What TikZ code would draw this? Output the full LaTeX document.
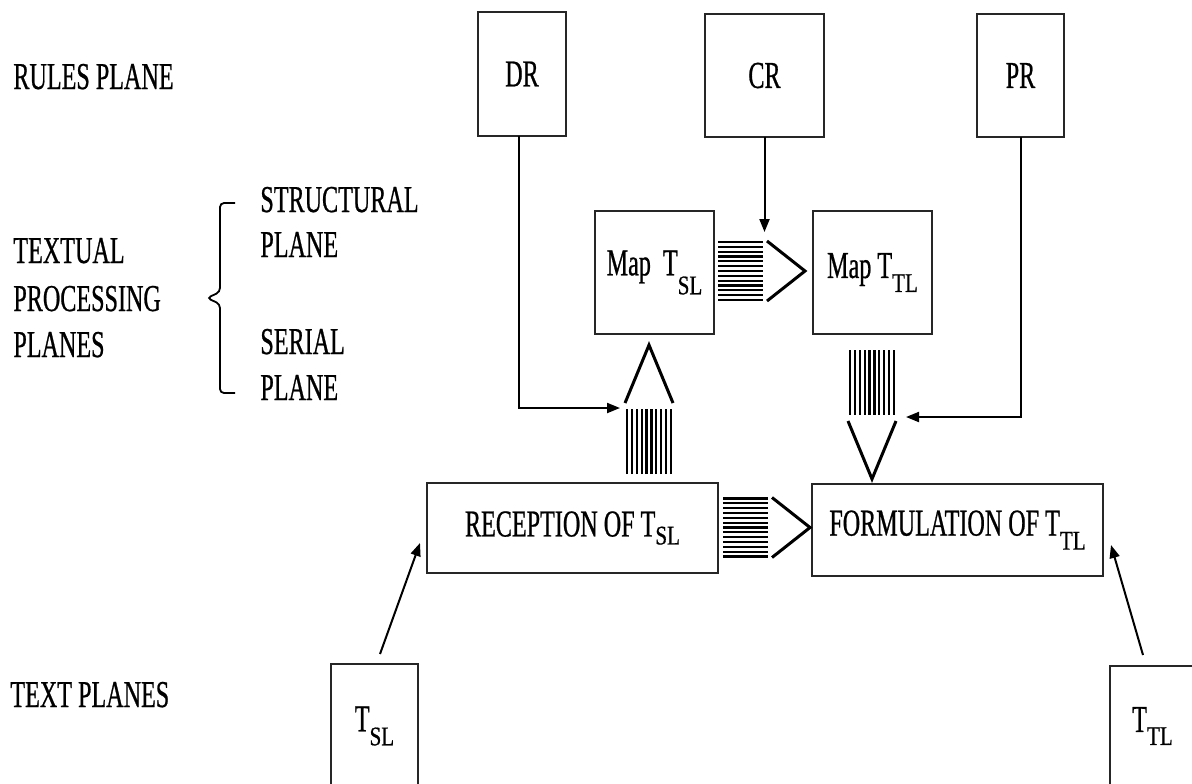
\documentclass[tikz,border=0pt]{standalone}
\usepackage{fontspec}
\setmainfont{Liberation Serif}[FakeStretch=0.635,FakeBold=0.6]
\newfontfamily\subfont{Liberation Serif}[FakeStretch=0.78,FakeBold=0.6]
\usetikzlibrary{calc,arrows.meta}

\newcommand{\lowsub}[2][6.5pt]{\raisebox{-#1}{\subfont\fontsize{13.5}{14}\selectfont #2}}

\tikzset{
    box/.style={draw=black!85, line width=0.9pt, inner sep=0pt, outer sep=0pt, font=\fontsize{19}{23}\selectfont},
    lbl/.style={inner sep=0pt, anchor=base west, font=\fontsize{19}{23}\selectfont},
    conn/.style={line width=1pt, -{Triangle[length=6.5pt,width=5pt]}},
    hatch/.style={line width=1.1pt},
    chev/.style={line width=1.5pt, miter limit=10},
    pics/hatchright/.style={code={
        \foreach \k in {0,...,12} \draw[hatch] (0,-29+4.833*\k) -- (45,-29+4.833*\k);
        \draw[chev] (49,-30) -- (87,0) -- (49,30);
    }},
    pics/hatchup/.style={code={
        \foreach \k in {0,...,9} \draw[hatch] (-22+4.889*\k,0) -- (-22+4.889*\k,-65);
        \draw[chev] (-24,-71) -- (0,-129) -- (24,-71);
    }}
}

\begin{document}
\begin{tikzpicture}[x=0.5pt,y=-0.5pt]
\clip (0,0) rectangle (1192,783);
\fill[white] (0,0) rectangle (1192,783);
% planes on the left
\node[lbl] (rules) at (13,89) {RULES PLANE};
\node[lbl] (textual) at (13,263) {TEXTUAL};
\node[lbl] (processing) at (13,311) {PROCESSING};
\node[lbl] (planes) at (13,357) {PLANES};
\node[lbl] (structural) at (260,212) {STRUCTURAL};
\node[lbl] (structplane) at (260,257) {PLANE};
\node[lbl] (serial) at (260,354) {SERIAL};
\node[lbl] (serialplane) at (260,400) {PLANE};
\node[lbl] (textplanes) at (10,707) {TEXT PLANES};
\draw[line width=0.9pt, rounded corners=2pt] (235,203) -| (220,292) -- (207,298) -- (220,304) |- (235,393);
% boxes
\node[box, minimum width=44pt, minimum height=62pt] (dr) at (522,74) {DR};
\node[box, minimum width=59.5pt, minimum height=61.5pt] (cr) at (764.5,75.5) {CR};
\node[box, minimum width=43.5pt, minimum height=61.5pt] (pr) at (1020.5,75.5) {PR};
\node[box, minimum width=59.5pt, minimum height=61.5pt] (mapsl) at (654.5,272.5) {Map\ \ T\lowsub[9.5pt]{SL}};
\node[box, minimum width=59.5pt, minimum height=61.5pt] (maptl) at (872.5,272.5) {Map T\lowsub[7pt]{TL}};
\node[box, minimum width=145.5pt, minimum height=45pt] (recep) at (572.5,528) {RECEPTION OF T\lowsub[4pt]{SL}};
\node[box, minimum width=145.5pt, minimum height=46pt] (formul) at (957.5,530) {FORMULATION OF T\lowsub[7pt]{TL}};
\node[box, minimum width=43.5pt, minimum height=62pt] (tsl) at (374.5,726) {T\lowsub[7pt]{SL}};
\node[box, minimum width=42.5pt, minimum height=60pt] (ttl) at (1152.5,726) {T\lowsub[6.5pt]{TL}};
% hatched arrows
\coordinate (hmap) at ($(mapsl.east)+(4,-1.5)$);
\coordinate (hrec) at ($(recep.east)+(5,-0.5)$);
\coordinate (vup) at ($(recep.north -| mapsl.south)+(-5.5,-9)$);
\coordinate (vdown) at ($(maptl.south)+(-0.5,16)$);
\pic at (hmap) {hatchright};
\pic at (hrec) {hatchright};
\pic at (vup) {hatchup};
\pic[rotate=180] at (vdown) {hatchup};
% rules into the planes
\coordinate (drin) at ($(vup)+(-29,-66)$);
\coordinate (crin) at ($(hmap)+(46,-39)$);
\coordinate (prin) at ($(vdown)+(34,67)$);
\draw[conn] ([xshift=-1.5pt]dr.south) |- (drin);
\draw[conn] (cr.south) -- (cr.south |- crin);
\draw[conn] (pr.south) |- (prin);
\draw[conn] ([shift={(5.5,-10)}]tsl.north) -- ($(recep.south west)+(-7,-30)$);
\draw[conn] ([shift={(-9.5,-11)}]ttl.north) -- ($(formul.south east)+(8,-31)$);
\end{tikzpicture}
\end{document}
